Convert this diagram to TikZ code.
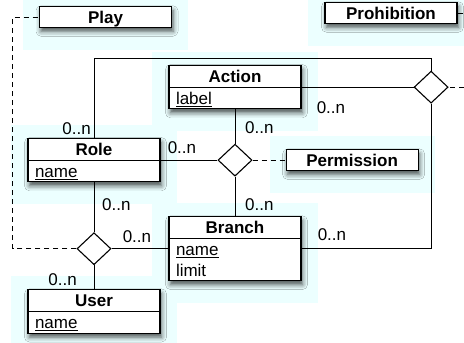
\documentclass[tikz,border=0pt]{standalone}
\usepackage{fontspec}
\setmainfont{Liberation Sans}
\usetikzlibrary{shapes.geometric, shapes.multipart, positioning, shadows.blur, backgrounds}
\definecolor{halocyan}{RGB}{236,255,255}
\newcommand{\rs}{\rule[-4pt]{0pt}{20.5pt}}

\begin{document}
\begin{tikzpicture}[x=1pt, y=-1pt, node distance=30pt]
    % Styles
    \tikzstyle{entity} = [rectangle split, rectangle split parts=2, rectangle split part align={center, left},
        draw, line width=1.1pt, fill=white, minimum width=132pt, inner xsep=7pt, inner ysep=0pt, align=left,
        font=\fontsize{17}{20.5}\selectfont,
        blur shadow={shadow xshift=1.5pt, shadow yshift=-4pt, shadow blur radius=5pt, shadow opacity=70}]
    \tikzstyle{tag} = [rectangle, draw, line width=1.1pt, fill=white, minimum width=132pt, inner sep=0pt,
        font=\fontsize{17}{20.5}\selectfont\bfseries,
        blur shadow={shadow xshift=1.5pt, shadow yshift=-4pt, shadow blur radius=5pt, shadow opacity=70}]
    \tikzstyle{rel} = [diamond, draw, line width=1.1pt, fill=white, minimum width=34pt, minimum height=32pt, inner sep=0pt]
    \tikzstyle{card} = [inner sep=1pt, font=\fontsize{17}{20.5}\selectfont]
    \tikzstyle{link} = [line width=1pt]
    \tikzstyle{dlink} = [line width=1pt, dash pattern=on 5pt off 4pt]

    \useasboundingbox (0,0) rectangle (464,343);
    \clip (0,0) rectangle (464,343);

    % Entities
    \node [entity, anchor=north] (action) at (235,65) {\textbf{Action}\rs\nodepart{second}\underline{label}\rs};
    \node [entity, below=107pt of action] (branch) {\textbf{Branch}\rs\nodepart{second}\underline{name}\rs\\limit\rs};
    \node [entity, anchor=north] (role) at (94,138) {\textbf{Role}\rs\nodepart{second}\underline{name}\rs};
    \node [entity, below=107pt of role] (user) {\textbf{User}\rs\nodepart{second}\underline{name}\rs};

    % Relationships
    \node [rel] (mdia) at (action |- role) {};
    \node [rel] (ldia) at (role |- branch) {};
    \node [rel, right=112pt of action] (rdia) {};

    % Tags
    \node [tag] (play) at (105.5,17) {Play\rs};
    \node [tag] (prohib) at (391,13) {Prohibition\rs};
    \node [tag, right=33pt of mdia] (perm) {Permission\rs};

    \coordinate (tr) at ([yshift=12pt]rdia.north);

    % Links
    \draw [link] (role.north) |- (tr) -- (rdia.north);
    \draw [link] (action.east) -- (rdia.west);
    \draw [link] (rdia.south) |- (branch.east);
    \draw [link] (role.east) -- (mdia.west);
    \draw [link] (action.south) -- (mdia.north);
    \draw [link] (mdia.south) -- (branch.north);
    \draw [link] (role.south) -- (ldia.north);
    \draw [link] (ldia.east) -- (branch.west);
    \draw [link] (ldia.south) -- (user.north);
    \draw [dlink] (mdia.east) -- (perm.west);
    \draw [dlink] (ldia.west) -| ([xshift=-26pt]play.west) -- (play.west);
    \draw [dlink] (prohib.east) -- ++(20,0) |- (rdia.east);

    % Cardinalities
    \node [card, anchor=south east] at ([shift={(-2pt,2pt)}]role.north) {0..n};
    \node [card, anchor=south west] at ([shift={(6pt,5pt)}]role.east) {0..n};
    \node [card, anchor=north west] at ([shift={(7pt,-15pt)}]role.south) {0..n};
    \node [card, anchor=north west] at ([shift={(9pt,-11pt)}]action.south) {0..n};
    \node [card, anchor=north west] at ([shift={(14pt,-13pt)}]action.east) {0..n};
    \node [card, anchor=south west] at ([shift={(9pt,4pt)}]branch.north) {0..n};
    \node [card, anchor=south west] at ([shift={(15pt,7pt)}]branch.east) {0..n};
    \node [card, anchor=south west] at ([shift={(10pt,5pt)}]ldia.east) {0..n};
    \node [card, anchor=south east] at ([shift={(-16pt,2pt)}]user.north) {0..n};

    % Background tint
    \begin{scope}[on background layer]
        \foreach \n in {play, prohib, action, role, perm, branch, user}
            \fill [halocyan] ([shift={(-16pt,13pt)}]\n.north west) rectangle ([shift={(16pt,-22pt)}]\n.south east);
    \end{scope}
\end{tikzpicture}
\end{document}
